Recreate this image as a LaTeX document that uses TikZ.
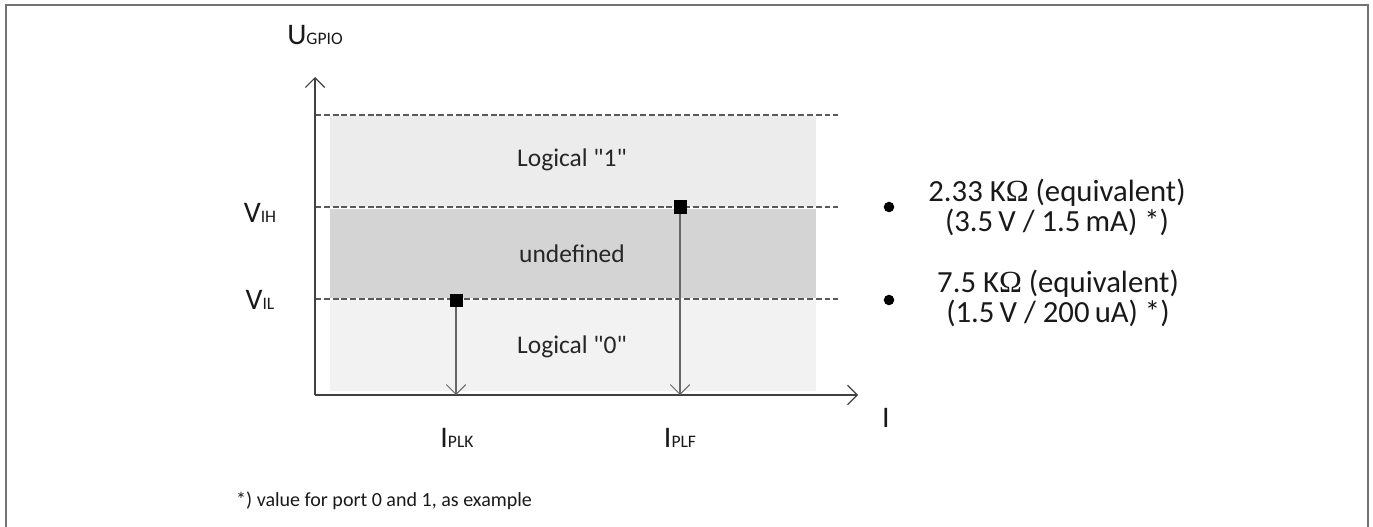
\documentclass[tikz,border=0pt]{standalone}
\usepackage{fontspec}
\setmainfont{Carlito}[Ligatures=TeXOff]
\newfontfamily\omegafont{Liberation Serif}
\usetikzlibrary{arrows.meta}

\definecolor{bandhigh}{HTML}{ECECEC}
\definecolor{bandmid}{HTML}{D4D4D4}
\definecolor{bandlow}{HTML}{F2F2F2}

\newcommand{\bigsub}[2]{{\fontsize{17}{20}\selectfont #1}{\fontsize{10}{12}\selectfont #2}}
\newcommand{\kohm}{K{\omegafont Ω}}

\tikzset{
  axisline/.style={draw=black!75, line width=0.7pt, -{Straight Barb[length=5.5pt,width=11pt]}},
  levelline/.style={draw=black!65, line width=0.6pt, dash pattern=on 3.4pt off 1.6pt},
  bandlabel/.style={font=\fontsize{14.5}{17}\selectfont, text=black!85},
  axislabel/.style={text=black!90, inner sep=0pt},
  marker/.style={fill=black, minimum size=7.4pt, inner sep=0pt},
  readout/.style={draw=black!60, line width=0.6pt, -{Straight Barb[length=5.5pt,width=11pt]}},
  dot/.style={circle, fill=black, minimum size=6pt, inner sep=0pt},
  valuetext/.style={font=\fontsize{17.5}{17.2}\selectfont, align=center, text=black!90}
}

\begin{document}
\begin{tikzpicture}[x=0.02cm, y=-0.02cm]
    \useasboundingbox (0,0) rectangle (1373,527);

    % frame, open at the bottom
    \draw[draw=black!55, line width=1.2pt] (6,527) -- (6,5) -- (1368,5) -- (1368,527);

    % bands
    \fill[bandhigh] (330,116) rectangle (816,207);
    \fill[bandmid] (330,209) rectangle (816,298);
    \fill[bandlow] (330,300) rectangle (816,391);

    \coordinate (origin) at (315,395);
    \coordinate (ytip) at (315,77);
    \coordinate (xtip) at (858,395);
    \coordinate (top0) at (315,115);
    \coordinate (top1) at (838,115);
    \coordinate (vih0) at (315,207);
    \coordinate (vih1) at (838,207);
    \coordinate (vil0) at (315,299);
    \coordinate (vil1) at (838,299);

    \draw[levelline] (top0) -- (top1);
    \draw[levelline] (vih0) -- (vih1);
    \draw[levelline] (vil0) -- (vil1);

    \draw[axisline] (origin) -- (ytip);
    \draw[axisline] (origin) -- (xtip);

    \node[bandlabel] (one) at (572,160) {Logical "1"};
    \node[bandlabel] (undef) at (572,254) {undefined};
    \node[bandlabel] (zero) at (572,347) {Logical "0"};

    \node[axislabel] (ugpio) at (315,35) {\bigsub{U}{GPIO}};
    \node[axislabel] (vih) at (260,213) {\bigsub{V}{IH}};
    \node[axislabel] (vil) at (260,300) {\bigsub{V}{IL}};
    \node[axislabel] (iaxis) at (886,418) {\bigsub{I}{}};
    \node[axislabel] (iplk) at (457,438) {\bigsub{I}{PLK}};
    \node[axislabel] (iplf) at (680,438) {\bigsub{I}{PLF}};

    \node[marker] (plk) at (456,300) {};
    \node[marker] (plf) at (680,207) {};
    \coordinate (plkfoot) at (456,395);
    \coordinate (plffoot) at (680,395);
    \draw[readout] (plk.south) -- (plkfoot);
    \draw[readout] (plf.south) -- (plffoot);

    \node[dot] (dothigh) at (889,207) {};
    \node[dot] (dotlow) at (889,300) {};
    \node[valuetext] (rhigh) at (1057,207) {2.33 \kohm{} (equivalent)\\(3.5\,V / 1.5\,mA) *)};
    \node[valuetext] (rlow) at (1058,298) {7.5 \kohm{} (equivalent)\\(1.5\,V / 200\,uA) *)};

    \node[anchor=west, font=\fontsize{11.4}{13}\selectfont, text=black!90] (note) at (230,501)
      {*) value for port 0 and 1, as example};
  \end{tikzpicture}
\end{document}
